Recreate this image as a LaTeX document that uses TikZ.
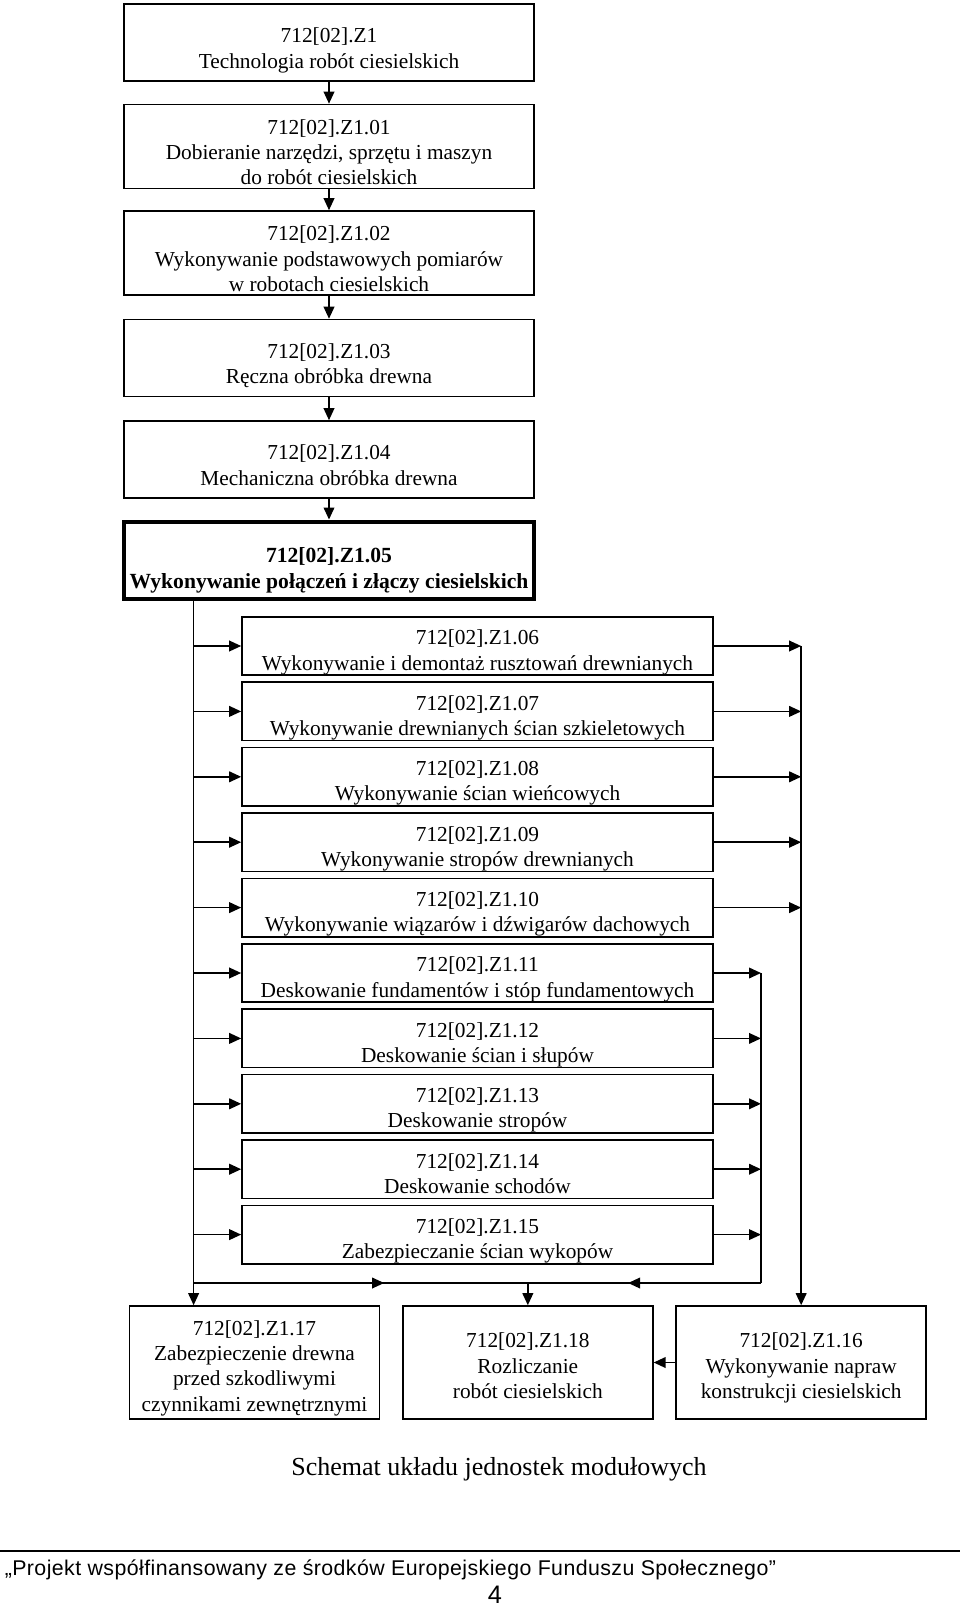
\documentclass[tikz,border=0pt]{standalone}
\usepackage{fontspec}
\setmainfont{Liberation Serif}
\newfontfamily\footfont[LetterSpace=2]{Liberation Sans}
\usetikzlibrary{arrows.meta,decorations.markings}

\newlength\codegap
\newcommand\modcode[1]{\rule{0pt}{\codegap}712[02].Z1#1}

\begin{document}
\begin{tikzpicture}[x=0.75pt, y=-0.75pt, node distance=78pt, >={Triangle[length=9pt,width=8pt]},
                    line width=1.2pt, font=\fontsize{16}{19}\selectfont,
                    main node/.style={rectangle,draw,align=center,minimum width=307.5pt,minimum height=57.75pt,inner sep=0pt,text depth=0pt,
                                      execute at begin node={\setlength\codegap{19.6pt}}},
                    sub node/.style={rectangle,draw,align=center,minimum width=353.25pt,minimum height=43.8pt,inner sep=0pt,text depth=0pt,
                                     execute at begin node={\setlength\codegap{17.2pt}}},
                    end node/.style={rectangle,draw,align=center,minimum width=187.5pt,minimum height=84.75pt,inner sep=0pt,text depth=0pt,
                                     execute at begin node={\setlength\codegap{15.8pt}}},
                    midarrow/.style={postaction={decorate},decoration={markings,mark=at position 0.57 with {\arrow{>}}}}]

\useasboundingbox (0,0) rectangle (960,1606);

\node[main node] (0) at (329,42.5) {\modcode{}\\Technologia robót ciesielskich};
  \node[main node,minimum height=63pt] (1) [below of=0] {\modcode{.01}\\Dobieranie narzędzi, sprzętu i maszyn\\do robót ciesielskich};
    \node[main node,minimum height=63pt] (2) [below of=1,node distance=79.9pt] {\modcode{.02}\\Wykonywanie podstawowych pomiarów\\w robotach ciesielskich};
      \node[main node] (3) [below of=2,node distance=78.75pt] {\modcode{.03}\\Ręczna obróbka drewna};
        \node[main node] (4) [below of=3,node distance=76.1pt] {\modcode{.04}\\Mechaniczna obróbka drewna};
          \node[main node,line width=3pt,execute at begin node={\setlength\codegap{23pt}},font=\fontsize{16.2}{19}\selectfont\bfseries] (5) [below of=4,node distance=75.4pt] {\modcode{.05}\\Wykonywanie połączeń i złączy ciesielskich};

\begin{scope}[node distance=49.05pt]
\node[sub node] (6) at (477.5,646) {\modcode{.06}\\Wykonywanie i demontaż rusztowań drewnianych};
  \node[sub node] (7) [below of=6] {\modcode{.07}\\Wykonywanie drewnianych ścian szkieletowych};
  \node[sub node] (8) [below of=7] {\modcode{.08}\\Wykonywanie ścian wieńcowych};
  \node[sub node] (9) [below of=8] {\modcode{.09}\\Wykonywanie stropów drewnianych};
  \node[sub node] (10) [below of=9] {\modcode{.10}\\Wykonywanie wiązarów i dźwigarów dachowych};
  \node[sub node] (11) [below of=10] {\modcode{.11}\\Deskowanie fundamentów i stóp fundamentowych};
  \node[sub node] (12) [below of=11] {\modcode{.12}\\Deskowanie ścian i słupów};
  \node[sub node] (13) [below of=12] {\modcode{.13}\\Deskowanie stropów};
  \node[sub node] (14) [below of=13] {\modcode{.14}\\Deskowanie schodów};
  \node[sub node] (15) [below of=14] {\modcode{.15}\\Zabezpieczanie ścian wykopów};
\end{scope}

\begin{scope}[node distance=205pt]
\node[end node] (17) at (254.5,1362.5) {\modcode{.17}\\Zabezpieczenie drewna\\przed szkodliwymi\\czynnikami zewnętrznymi};
  \node[end node] (18) [right of=17] {\modcode{.18}\\Rozliczanie\\robót ciesielskich};
  \node[end node] (16) [right of=18] {\modcode{.16}\\Wykonywanie napraw\\konstrukcji ciesielskich};
\end{scope}

\coordinate (a) at (193.6,0);
\coordinate (b) at (0,1283);
\coordinate (c) at (761,0);

% chain of the first units
\foreach \i [count=\j from 1] in {0,...,4}
  \draw[->] (\i) -- (\j);

% left trunk
\draw[->] (5.south -| a) -- (17.north -| a);
\foreach \i in {6,...,15}
  \draw[->] (\i.west -| a) -- (\i.west);

% right trunks
\foreach \i in {6,...,10}
  \draw[->] (\i.east) -- (\i.east -| 16.north);
\draw[->] (6.east -| 16.north) -- (16.north);
\foreach \i in {11,...,15}
  \draw[->] (\i.east) -- (\i.east -| c);
\draw (11.east -| c) -- (b -| c);

% bottom bus
\draw[midarrow] (b -| a) -- (b -| 18.north);
\draw[midarrow] (b -| c) -- (b -| 18.north);
\draw[->] (b -| 18.north) -- (18.north);
\draw[->] (16) -- (18);

\node (title) at (499,1469) {\fontsize{19.5}{23}\selectfont Schemat układu jednostek modułowych};

\draw[line width=0.8pt] (0,1551) -- (960,1551);
\node[anchor=west,inner sep=0pt,font=\footfont\fontsize{16}{19}\selectfont] (foot) at (4,1570) {„Projekt współfinansowany ze środków Europejskiego Funduszu Społecznego”};
\node[font=\footfont\fontsize{19}{22}\selectfont] (page) at (495,1595) {4};

\end{tikzpicture}
\end{document}
